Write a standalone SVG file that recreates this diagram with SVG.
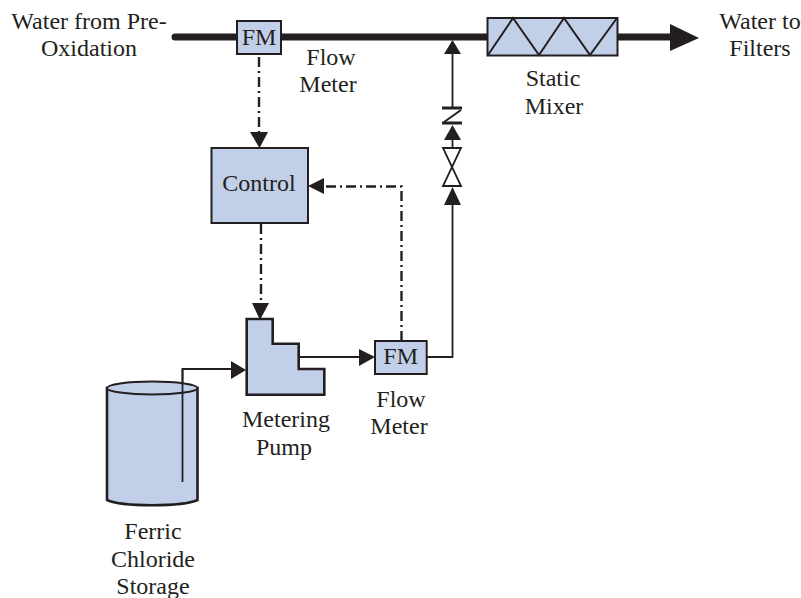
<svg xmlns="http://www.w3.org/2000/svg" width="801" height="598" viewBox="0 0 801 598">
<style>
text{font-family:"Liberation Serif","Times New Roman",serif;font-size:24px;fill:#231f20;text-anchor:middle}
.n{fill:#c2cfe8;stroke:#231f20;stroke-width:2}
.t{fill:#c2cfe8;stroke:#231f20;stroke-width:2.600}
.p{fill:none;stroke:#231f20;stroke-width:2}
.l{fill:none;stroke:#231f20;stroke-width:1.800}
.d{fill:none;stroke:#231f20;stroke-width:2.400;stroke-dasharray:10 4 2 4}
.a{fill:#231f20;stroke:none}
</style>
<rect width="801" height="598" fill="#fff"/>
<g id="connectors">
<path d="M175 37H487" fill="none" stroke="#231f20" stroke-width="7" stroke-linecap="round"/>
<path d="M617 37H672" fill="none" stroke="#231f20" stroke-width="7"/>
<polygon class="a" points="670,24 699,38 670,51"/>
<path class="l" d="M452.500 53V108M452.500 140V148M452.500 205V357H427"/>
<polygon class="a" points="452.500,40 444,54 461,54"/>
<polygon class="a" points="452.500,125 444,140 461,140"/>
<polygon class="a" points="452.500,187 444,205 461,205"/>
<path class="l" d="M182.500 482V369H232"/>
<polygon class="a" points="246,370 231,361 231,379"/>
<path class="l" d="M299 357H361"/>
<polygon class="a" points="375,357 359,349 359,366"/>
<path class="d" d="M259 57V134"/>
<polygon class="a" points="259.500,148 250,132 268,132"/>
<path class="d" d="M261 224V304"/>
<polygon class="a" points="260,320 252,303 269,303"/>
<path class="d" d="M401.500 341V186.500H324"/>
<polygon class="a" points="308,186 324,178 324,194"/>
</g>
<g id="check-valve"><path d="M442 108H462M442 123H462" fill="none" stroke="#231f20" stroke-width="3"/><path class="p" d="M461 110L444 122"/></g>
<g id="valve"><path d="M443 148H461L443 186H461Z" fill="#fff" stroke="#231f20" stroke-width="1.800"/></g>
<g id="static-mixer">
<rect class="n" x="487.500" y="18" width="130" height="37.500"/>
<path class="p" d="M488 55L513 18L539 55L564 18L590 55L617 18"/>
</g>
<g id="flow-meter-top"><rect class="n" x="237" y="21" width="44" height="33"/><text x="259" y="45">FM</text></g>
<g id="control"><rect class="n" x="211.500" y="148" width="96.500" height="75"/><text x="259" y="191">Control</text></g>
<g id="metering-pump"><polygon class="t" points="246.700,319 272.700,319 272.700,343.700 298.700,343.700 298.700,369 324.300,369 324.300,394.700 246.700,394.700"/></g>
<g id="flow-meter-bottom"><rect class="n" x="375" y="341" width="51.700" height="33"/><text x="400.700" y="364">FM</text></g>
<g id="storage-tank">
<path class="t" d="M107 388V500C122 507 182 507 197.500 500V388Z"/>
<ellipse class="n" cx="152.250" cy="388" rx="45.250" ry="6.500"/>
<path class="l" d="M182.500 369V482"/>
</g>
<g id="labels">
<text x="89" y="29">Water from Pre-</text>
<text x="89" y="56">Oxidation</text>
<text x="331" y="65">Flow</text>
<text x="328" y="92">Meter</text>
<text x="760" y="29">Water to</text>
<text x="760" y="56">Filters</text>
<text x="553" y="86">Static</text>
<text x="554" y="114">Mixer</text>
<text x="286" y="427">Metering</text>
<text x="284" y="455">Pump</text>
<text x="401" y="407">Flow</text>
<text x="399" y="434">Meter</text>
<text x="153" y="539">Ferric</text>
<text x="153" y="567">Chloride</text>
<text x="153" y="594">Storage</text>
</g>
</svg>
